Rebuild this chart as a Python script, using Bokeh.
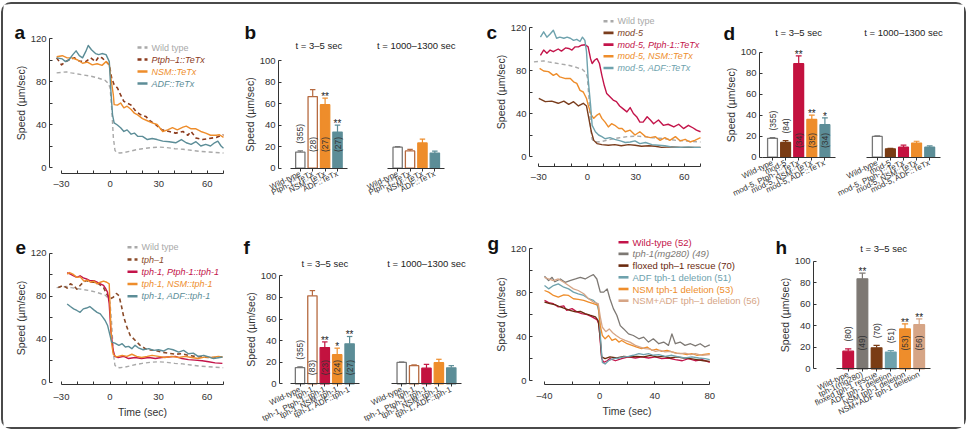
import math
from bokeh.plotting import figure
from bokeh.layouts import row, column
from bokeh.models import Range1d, FixedTicker, LinearAxis
from bokeh.core.properties import value
from bokeh.embed import file_html
from bokeh.resources import INLINE

FONT = "Liberation Sans"
INK = "#333333"
SPEED = "Speed (µm/sec)"

# ---------------- traces: speed (µm/sec) versus time (sec) ----------------
# wild-type reference trace (shared by a, c, e)
wt_t = [-33, -30, -27, -24, -20, -16, -12, -8, -5, -3, -1, 0, 1, 2, 3, 4, 6, 9, 12, 16,
        20, 25, 30, 35, 40, 45, 50, 55, 60, 65, 70]
wt_v = [88, 88.5, 89, 88, 87, 86, 85, 83.5, 82, 81, 78, 74, 55, 28, 16, 14, 13.5, 14, 15, 16.5,
        17.5, 18.5, 19, 18.5, 17.5, 17, 16, 15, 14.5, 14, 13.5]

# a
a_ptph_t = [-33, -30, -27.5, -25.5, -22, -19, -15, -12, -9, -7, -5, -2.5, -0.5, 1, 2.5, 4.5, 6.5,
            8.5, 10.5, 13, 16, 19, 22, 25, 28, 32, 36.5, 40.5, 45, 48, 50, 53, 57, 61, 65.5, 70]
a_ptph_v = [102, 95.5, 98.5, 100, 102, 99, 98.5, 102, 98.5, 103, 102, 98.5, 95.5, 83, 77, 74, 67.5,
            61.5, 60, 58, 52, 49, 47.5, 43, 40, 35, 33.5, 32, 33.5, 30, 33.5, 27.5, 26, 27, 28, 30.5]
a_nsm_t = [-33, -29.5, -26.5, -23.5, -20, -17, -14, -11, -8, -5, -2.5, -0.5, 0.5, 2, 2.5, 4.5, 6.5,
           8.5, 10.5, 13, 15, 17, 20, 23, 26, 29, 32.5, 35.5, 38.5, 41.5, 45, 47, 50, 53, 56, 59,
           62, 65.5, 67.5, 70]
a_nsm_v = [103, 104, 102, 102, 100, 97, 98, 95.5, 96.5, 95, 98.5, 95.5, 83, 67.5, 58.5, 58, 60,
           55.5, 57, 54, 50.5, 49, 45.5, 43.5, 41.5, 40, 33.5, 35, 37, 35, 37.5, 38.5, 36, 36, 33.5,
           32, 30, 30, 30.5, 28]
a_adf_t = [-33, -29.5, -27.5, -25.5, -23, -21, -19, -17, -15, -13.5, -11.5, -9, -7, -5, -2.5, -0.5,
           0.5, 1.5, 2.5, 4.5, 6.5, 8.5, 10.5, 13, 15, 17, 20, 23, 26, 29, 32.5, 36.5, 40.5, 44,
           47, 50, 53, 56, 59, 62, 64.5, 66.5, 68.5, 70]
a_adf_v = [102, 101, 98.5, 100, 105, 108.5, 104, 102, 108, 113.5, 109.5, 106, 105, 106, 105, 98.5,
           71, 49, 41.5, 39.5, 37, 33.5, 35, 31, 32, 29, 29, 26, 27, 26, 24.5, 24, 23, 26,
           23, 21.5, 24, 20, 21.5, 20, 23, 24.5, 20, 18]

# c
c_mod5_t = [-30, -26, -22, -18, -14.5, -11.5, -8.5, -5.5, -2.5, -0.5, 1, 2.5, 4, 6, 9, 13, 17, 21,
            25.5, 29.5, 33.5, 38, 42, 46, 52, 58.5, 64.5, 70]
c_mod5_v = [54, 51, 51.5, 49.5, 51.5, 48.5, 51, 47, 49.5, 47, 35, 23, 15, 12, 11, 10.5, 11, 10,
            11, 10.5, 9.5, 10, 9.5, 8.5, 9, 8.5, 8.5, 8.5]
c_ptph_t = [-29, -27, -25, -23, -21, -18, -16, -13.5, -11.5, -9.5, -7.5, -5.5, -3.5, -1.5, 0.5, 2,
            3, 4.5, 6, 7.5, 9, 10.5, 12, 14, 16, 18, 20, 22, 24.5, 26.5, 28.5, 30.5, 32.5, 34.5,
            37, 39, 41, 44, 47, 50, 53.5, 56.5, 59.5, 62.5, 65.5, 67.5, 70]
c_ptph_v = [94, 99, 96, 99, 97.5, 100, 98, 101, 100.5, 99, 102, 102, 103.5, 104, 102, 91,
            86.5, 89.5, 91, 86.5, 75.5, 66, 58.5, 55.5, 52.5, 51, 47, 44.5, 41.5, 45.5, 40, 37, 32, 32,
            37, 34, 30.5, 34, 29, 30, 27.5, 30, 26, 29, 26.5, 24.5, 23]
c_nsm_t = [-29.5, -27, -24, -21, -19, -17, -13.5, -10.5, -8.5, -6.5, -4.5, -2.5, -0.5, 0.5, 2.5, 4,
           6, 7.5, 9, 11, 13, 15, 17, 19.5, 21.5, 23.5, 26.5, 29.5, 32.5, 36, 39, 42, 45, 48, 51,
           54.5, 57.5, 60.5, 63.5, 66.5, 70]
c_nsm_v = [82, 79.5, 79, 75.5, 77, 74, 72.5, 72.5, 69.5, 68, 61.5, 60, 54, 48, 38.5, 35.5,
           38.5, 40, 35.5, 32, 27.5, 30.5, 29, 26, 26, 23, 24.5, 20, 23, 18.5, 17.5, 18.5, 15, 17.5, 15,
           18.5, 14.5, 16, 13.5, 15, 17.5]
c_adf_t = [-29, -27, -25, -23, -21, -19, -17, -14.5, -12.5, -10.5, -8.5, -6.5, -4.5, -3, -1.5, -0.5,
           0.5, 2, 3, 5, 7, 9, 11, 14, 17, 20.5, 23.5, 26.5, 29.5, 32.5, 36, 40, 44, 48, 52, 57.5,
           62.5, 66.5, 70]
c_adf_v = [111, 116, 111, 114, 117.5, 110, 111, 110, 111, 110, 108, 109, 107, 111, 108, 97.5,
           72.5, 48, 29, 23, 20, 18.5, 16.5, 17.5, 16, 14.5, 13, 13.5, 14.5, 12, 13, 11, 10.5, 10, 9, 8.5,
           9, 8.5, 8.5]

# e
e_tph_t = [-32, -29, -26.5, -24.5, -22.5, -20.5, -18.5, -16.5, -14.5, -12.5, -10, -7, -4, -2, 0, 2,
           4, 5.5, 7, 8.5, 10.5, 12.5, 14.5, 16.5, 18.5, 22, 25, 28, 32, 36, 40.5, 44.5, 48.5, 52.5,
           57, 61, 65, 69.5]
e_tph_v = [88, 90, 87.5, 91.5, 90, 86.5, 90, 93, 94.5, 93, 93, 91.5, 88, 82, 77.5, 79,
           82.5, 80.5, 71.5, 60.5, 51, 43.5, 40.5, 37.5, 34.5, 31, 30, 29.5, 28, 27, 26, 26.5, 25, 24,
           23.5, 23, 23, 23.5]
e_ptph_t = [-26.5, -24.5, -22.5, -20.5, -18.5, -16.5, -14.5, -12.5, -10, -8, -6, -4, -2.5, -1.5,
            -0.5, 0.5, 2, 3, 5, 8.5, 11.5, 15.5, 19.5, 24, 28, 32, 36, 40.5, 44.5, 48.5, 52.5, 57, 61,
            65, 69.5]
e_ptph_v = [102, 100.5, 99, 97.5, 99, 97, 96, 94.5, 94.5, 93, 91.5, 90, 86.5, 83.5,
            73, 48, 29.5, 24, 23, 24, 22, 23, 22, 23, 22, 23, 23.5, 24, 22, 21, 20.5, 20, 19,
            18, 17.5]
e_nsm_t = [-26.5, -25, -23, -20.5, -18.5, -16, -14, -12, -10, -8, -6, -4, -2, -0.5, 0.3, 1, 2, 4,
           7.5, 10.5, 13.5, 16.5, 19.5, 23, 26, 30, 34, 38, 42.5, 46.5, 50.5, 54.5, 59, 63, 67, 69.5]
e_nsm_v = [100.5, 102, 100.5, 97.5, 98, 94, 95, 93, 94, 91.5, 93, 94, 93, 91.5, 60.5, 36, 26,
           23.5, 25, 24, 26, 24, 23, 24, 25, 24, 23, 24, 23, 24, 23, 22, 23.5, 23, 24, 23.5]
e_adf_t = [-26.5, -24.5, -22.5, -20.5, -18.5, -16.5, -14.5, -12.5, -10, -8, -6, -4.5, -3, -1.5, 0,
           1, 3, 5.5, 7.5, 9.5, 11.5, 13.5, 15.5, 17.5, 20.5, 24, 27, 30, 33, 36, 39, 42.5, 45.5,
           48.5, 51.5, 54.5, 58, 61, 64, 67, 69.5]
e_adf_v = [72.8, 70.4, 68.2, 66.7, 65, 68.2, 69, 70.4, 67.3, 65, 63.6, 60.5, 57.4, 52.8, 43.5,
           37.3, 36.4, 34.3, 35.8, 32.7, 33.3, 31.2, 34.3, 32, 30.2, 31.2, 29.6, 30.2, 29, 31.2, 30.2,
           28, 29.6, 26.5, 27, 24, 25, 23.5, 22, 22.8, 23.5]

# g
g_wt_t = [-40, -37, -33.5, -30, -26, -24, -20, -16.5, -13, -9, -5.5, -2, -0.5, 0.5, 1.5, 3, 5.5,
          7.5, 11.5, 16, 21, 26, 30.5, 35.5, 40.5, 45, 50, 55, 60, 64.5, 69.5, 74.5, 80]
g_wt_v = [73, 71, 70, 67, 68, 64, 65.5, 62.5, 61, 60, 58, 55.5, 51.5, 35, 20, 16.5, 18,
          20, 18, 20, 21.5, 20.5, 21.5, 20.5, 21.5, 20, 20.5, 19, 18, 20, 18, 19, 16.5]
g_tph_t = [-40, -37, -34.5, -32.5, -28.5, -25, -21.5, -17.5, -14, -10.5, -7, -4.5, -2, 0.5, 3, 5.5,
           7.5, 10, 12.5, 15, 17.5, 21, 24.5, 28.5, 32, 35.5, 39, 43, 46.5, 50, 52.5, 55, 58.5,
           62, 66, 69.5, 73, 76.5, 80]
g_tph_v = [95, 91, 94, 90, 92.5, 89.5, 91, 92.5, 94, 92.5, 95, 96.5, 92.5, 80.5, 80.5, 83.5,
           74.5, 65.5, 59.5, 50, 47, 42.5, 41, 38, 39.5, 35, 38, 33.5, 35, 32, 42.5, 33.5, 35,
           32, 33.5, 31.5, 33.5, 30.5, 32.5]
g_flox_t = [-40, -36, -32, -28.5, -25, -21.5, -17.5, -14, -10.5, -7, -3, -1, 0.5, 1.5, 4, 7.5, 12.5,
            17.5, 22, 27, 32, 37, 41.5, 46.5, 51.5, 56, 61, 66, 70.5, 75.5, 80]
g_flox_v = [71.5, 70, 69, 67, 65.5, 64, 62.5, 63, 61, 59.5, 58, 54.5, 38, 21.5, 20, 21.5, 20.5,
            22, 21.5, 22, 21.5, 23, 21.5, 22, 20.5, 21.5, 20.5, 20, 19, 18, 17.5]
g_adf_t = [-40, -37, -33.5, -30, -26, -22.5, -19, -15.5, -11.5, -8, -4.5, -2, -0.5, 1, 2, 4, 6.5, 10,
           14, 17.5, 21, 24.5, 28.5, 32, 35.5, 39, 43, 47.5, 52.5, 57.5, 62, 67, 72, 76.5, 80]
g_adf_v = [86.5, 83.5, 86.5, 88, 85, 83.5, 80.5, 79, 77.5, 74.5, 73, 70, 62.5, 32, 16.5, 15, 18, 20,
           20.5, 21.5, 22, 23, 24.5, 23.5, 24.5, 23, 23.5, 22, 23, 21.5, 20.5, 21.5, 20.5, 20, 19]
g_nsm_t = [-40, -37, -33.5, -30, -26, -22.5, -19, -15.5, -11.5, -8, -4.5, -1, 0.5, 2, 4, 6.5, 9,
           11.5, 14, 16, 20, 23.5, 27, 30.5, 34.5, 38, 41.5, 45, 49, 52.5, 56, 60, 63.5, 67, 70.5,
           74.5, 80]
g_nsm_v = [82, 80.5, 77.5, 76, 78, 77.5, 74.5, 74, 73, 71.5, 70, 68.5, 50, 41, 38, 41, 36.5,
           38, 35, 36.5, 33.5, 32, 30.5, 29, 30.5, 27.5, 28.5, 26.5, 27.5, 26, 25, 24.5, 23.5, 24.5, 23,
           23.5, 24.5]
g_nadf_t = [-40, -37, -33.5, -30, -26, -22.5, -19, -15.5, -11.5, -8, -4.5, -1, 0.5, 2, 4.5, 7, 9.5,
            12, 15, 18.5, 22, 26, 29.5, 33, 37, 40.5, 44, 47.5, 51.5, 55, 58.5, 62, 66, 69.5,
            74.5, 80]
g_nadf_v = [94, 92.5, 91, 92.5, 89.5, 86.5, 83.5, 82, 79, 74.5, 71.5, 70, 58, 48.5, 44.5, 47, 43.5,
            41, 38.5, 36.5, 35, 32, 30.5, 29, 28.5, 26.5, 27.5, 26, 26.5, 25, 24.5, 25, 23.5, 24.5,
            23, 23.5]

# ---------------- bar summaries: mean speed and s.e.m. ----------------
windows = ["t = 3–5 sec", "t = 1000–1300 sec"]

b_names = ["Wild-type", "Ptph-1::TeTx", "NSM::TeTx", "ADF::TeTx"]
b_early = [15, 66.5, 59, 33.5]
b_early_err = [1, 6.5, 6, 6.5]
b_late = [19.5, 16, 23.5, 14]
b_late_err = [0.5, 1.5, 3.5, 1.8]
b_n = ["(355)", "(28)", "(27)", "(27)"]
b_sig = ["", "", "**", "**"]

d_names = ["Wild-type", "mod-5", "mod-5, Ptph-1::TeTx", "mod-5, NSM::TeTx", "mod-5, ADF::TeTx"]
d_early = [18, 14, 89, 36, 31]
d_early_err = [0.7, 1.8, 7.5, 4, 6.5]
d_late = [19.8, 8, 9.5, 13.5, 9.5]
d_late_err = [0.5, 0.5, 2, 1.7, 1.2]
d_n = ["(355)", "(84)", "(34)", "(35)", "(34)"]
d_sig = ["", "", "**", "**", "*"]

f_names = ["Wild-type", "tph-1", "tph-1, Ptph-1::tph-1", "tph-1, NSM::tph-1", "tph-1, ADF::tph-1"]
f_early = [15, 81.5, 33.5, 27, 37]
f_early_err = [0.7, 4.8, 5.3, 6, 6.8]
f_late = [19.8, 16.8, 14.5, 19.5, 14.8]
f_late_err = [0.4, 0.7, 3.5, 3.2, 2]
f_n = ["(355)", "(83)", "(23)", "(24)", "(27)"]
f_sig = ["", "", "**", "*", "**"]

h_names = ["Wild-type", "tph-1(mg280)", "floxed tph-1 rescue", "ADF tph-1 deletion",
           "NSM tph-1 deletion", "NSM+ADF tph-1 deletion"]
h_early = [16.4, 83.6, 19.5, 15.5, 37, 41]
h_early_err = [2.2, 5.3, 2.2, 1.5, 4.8, 5.4]
h_n = ["(80)", "(49)", "(70)", "(51)", "(53)", "(56)"]
h_sig = ["", "**", "", "", "**", "**"]

# ---------------- colours ----------------
C_WT = "#a9a9a9"
C_TETX = "#8b3a1c"
C_ORANGE = "#ee8d2b"
C_TEAL = "#5c8d97"
C_TEAL_L = "#6ea2ad"
C_MOD5 = "#7a3d1d"
C_CRIMSON = "#c3144a"
C_TPH = "#8a4a28"
C_GRAY = "#7d7873"
C_FLOX = "#6a2a0e"
C_TAN = "#d6a586"
BAR_WT_LINE = "#777777"
BAR_TETX_LINE = "#b66a40"
BAR_MOD5 = "#7a3c14"
BAR_RED = "#c3123f"


def inverse(cal):
    """Pixel -> data mapping from two (data, pixel) calibration pairs."""
    (d1, p1), (d2, p2) = cal
    k = (p2 - p1) / (d2 - d1)
    return (lambda px: d1 + (px - p1) / k), abs(k)


def canvas(geom, xcal, ycal):
    """A figure whose plotting frame covers the whole panel; axes sit at fixed locations."""
    ox, oy, w, h = geom
    fx, kx = inverse(xcal)
    fy, ky = inverse(ycal)
    p = figure(width=w, height=h, x_range=Range1d(fx(ox), fx(ox + w)),
               y_range=Range1d(fy(oy + h), fy(oy)), min_border=0,
               x_axis_location=None, y_axis_location=None,
               title=None, toolbar_location=None, output_backend="svg",
               background_fill_color="white", border_fill_color="white")
    p.xgrid.visible = False
    p.ygrid.visible = False
    p.outline_line_color = None
    return p, fx, fy, kx, ky


def style_axis(ax, tick_size="9.5px", standoff=4):
    ax.axis_line_color = INK
    ax.axis_line_width = 1
    ax.major_tick_line_color = INK
    ax.minor_tick_line_color = INK
    ax.major_tick_in = 3
    ax.major_tick_out = 0
    ax.minor_tick_in = 3
    ax.minor_tick_out = 0
    ax.major_label_text_font = FONT
    ax.major_label_text_font_size = tick_size
    ax.major_label_text_color = INK
    ax.major_label_standoff = standoff
    ax.axis_label_text_font = FONT
    ax.axis_label_text_font_size = "10.5px"
    ax.axis_label_text_font_style = "normal"
    ax.axis_label_text_color = INK
    ax.axis_label_standoff = 1


def speed_axis(p, fx, y_px_x, top):
    ya = LinearAxis(fixed_location=fx(y_px_x), bounds=(0, top), axis_label=SPEED)
    style_axis(ya, standoff=3)
    if top == 120:
        ya.ticker = FixedTicker(ticks=[0, 40, 80, 120], minor_ticks=[20, 60, 100])
    else:
        ya.ticker = FixedTicker(ticks=[0, 20, 40, 60, 80, 100])
    p.add_layout(ya, "left")


def panel_letter(p, fx, fy, ch, x_abs, base_abs):
    p.text(x=[fx(x_abs)], y=[fy(base_abs)], text=[ch], text_font=value(FONT),
           text_font_size="19px", text_font_style="bold", text_color="#111111",
           text_baseline="alphabetic", text_align="left")


def draw_key(p, fx, fy, entries, x_abs, cys, size):
    for (color, dash, _, _), cy in zip(entries, cys):
        p.segment(x0=[fx(x_abs)], y0=[fy(cy)], x1=[fx(x_abs + 10)], y1=[fy(cy)],
                  line_color=color, line_width=2.6, line_dash=dash)
    p.text(x=[fx(x_abs + 14)] * len(cys), y=[fy(cy) for cy in cys],
           text=[e[2] for e in entries], text_color=[e[0] for e in entries],
           text_font_style=["italic" if e[3] else "normal" for e in entries],
           text_baseline="middle", text_align="left", text_font=value(FONT), text_font_size=size)


def line_panel(geom, axis_px, xcal, ycal, xmajor, xminor, traces, key_x, key_cy, key_size,
               ch, letter_xy, xlabel=None, standoff=4):
    p, fx, fy, kx, ky = canvas(geom, xcal, ycal)
    for t, v, color, dash, width, _, _ in traces:
        p.line(t, v, line_color=color, line_width=width, line_dash=dash, line_join="round")
    draw_key(p, fx, fy, [(c, d, txt, it) for _, _, c, d, _, txt, it in traces], key_x, key_cy, key_size)
    y_px_x, x_px_y = axis_px
    xa = LinearAxis(fixed_location=fy(x_px_y))
    style_axis(xa, standoff=standoff)
    xa.ticker = FixedTicker(ticks=xmajor, minor_ticks=xminor)
    xa.bounds = (xmajor[0], max(xmajor[-1], xminor[-1]))
    xa.major_label_overrides = {t: "–%d" % (-t) for t in xmajor if t < 0}
    if xlabel:
        xa.axis_label = xlabel
    p.add_layout(xa, "below")
    speed_axis(p, fx, y_px_x, 120)
    panel_letter(p, fx, fy, ch, *letter_xy)
    return p


def bar_panel(geom, y_px_x, xcal, ycal, groups, title_px, inside_y, ch, letter_xy):
    p, fx, fy, kx, ky = canvas(geom, xcal, ycal)
    title_x, title_txt = [], []
    for names, pos, mean, err, fills, lines, counts, sig, title in groups:
        p.vbar(x=pos, top=mean, bottom=0, width=0.75, fill_color=fills, line_color=lines,
               line_width=1.3)
        tops = [m + e for m, e in zip(mean, err)]
        p.segment(x0=pos, y0=mean, x1=pos, y1=tops, line_color=lines, line_width=1.2)
        p.segment(x0=[x - 0.22 for x in pos], y0=tops, x1=[x + 0.22 for x in pos], y1=tops,
                  line_color=lines, line_width=1.2)
        if counts:
            ys = []
            for m, tp, txt in zip(mean, tops, counts):
                half = len(txt) * 0.55 * 8.5 / 2 / ky
                ys.append(inside_y if m > inside_y + half + 1.5 else tp + 5 + half)
            p.text(x=pos, y=ys, text=counts, angle=math.pi / 2, text_align="center",
                   text_baseline="middle", text_font=value(FONT), text_font_size="8.5px",
                   text_color=INK)
        if sig:
            p.text(x=pos, y=[tp + 1.5 for tp in tops], text=sig, text_align="center",
                   text_baseline="alphabetic", text_font=value(FONT), text_font_size="10px",
                   text_color="#222222")
        # one baseline axis per time window
        xa = LinearAxis(fixed_location=0, bounds=(pos[0] - 0.8, pos[-1] + 0.8),
                        ticker=FixedTicker(ticks=pos),
                        major_label_overrides={x: nm for x, nm in zip(pos, names)})
        style_axis(xa, tick_size="8px", standoff=2)
        xa.major_tick_in = 0
        xa.major_tick_out = 3
        xa.major_label_orientation = 0.45
        p.add_layout(xa, "below")
        title_x.append(sum(pos) / len(pos))
        title_txt.append(title)
    p.text(x=title_x, y=[fy(title_px)] * len(title_x), text=title_txt, text_align="center",
           text_baseline="middle", text_font=value(FONT), text_font_size="9.5px",
           text_color="#222222")
    speed_axis(p, fx, y_px_x, 100)
    panel_letter(p, fx, fy, ch, *letter_xy)
    return p


def positions(n, start=0.0):
    return [round(start + i, 3) for i in range(n)]


# ---------------- a ----------------
pa = line_panel((3, 4, 237, 205), (49, 173), ((-30, 61), (70, 223)), ((0, 167), (120, 38)),
                [-30, 0, 30, 60], [-20, -10, 10, 20, 40, 50, 70],
                [(wt_t, wt_v, C_WT, "4 3", 1.4, "Wild type", False),
                 (a_ptph_t, a_ptph_v, C_TETX, "4 3", 1.6, "Ptph–1::TeTx", True),
                 (a_nsm_t, a_nsm_v, C_ORANGE, "solid", 1.4, "NSM::TeTx", True),
                 (a_adf_t, a_adf_v, C_TEAL, "solid", 1.4, "ADF::TeTx", True)],
                137, [47, 59, 71, 83], "9px", "a", (14, 31.5))

# ---------------- b ----------------
b_pos1 = positions(4)
b_pos2 = positions(4, 7.85)
b_fill = ["white", "white", C_ORANGE, C_TEAL]
b_line = [BAR_WT_LINE, BAR_TETX_LINE, C_ORANGE, C_TEAL]
pb = bar_panel((240, 4, 240, 205), 278, ((0, 299.8), (1, 312.2)), ((0, 167.7), (100, 60)),
               [(b_names, b_pos1, b_early, b_early_err, b_fill, b_line, b_n, b_sig, windows[0]),
                (b_names, b_pos2, b_late, b_late_err, b_fill, b_line, None, None, windows[1])],
               45, 22, "b", (244, 31.7))

# ---------------- c ----------------
pc = line_panel((480, 4, 236, 205), (529, 166), ((-30, 538.3), (70, 700)), ((0, 156), (120, 27)),
                [-30, 0, 30, 60], [-20, -10, 10, 20, 40, 50, 70],
                [(wt_t, wt_v, C_WT, "4 3", 1.4, "Wild type", False),
                 (c_mod5_t, c_mod5_v, C_MOD5, "solid", 1.4, "mod-5", True),
                 (c_ptph_t, c_ptph_v, C_CRIMSON, "solid", 1.4, "mod-5, Ptph-1::TeTx", True),
                 (c_nsm_t, c_nsm_v, C_ORANGE, "solid", 1.4, "mod-5, NSM::TeTx", True),
                 (c_adf_t, c_adf_v, C_TEAL_L, "solid", 1.4, "mod-5, ADF::TeTx", True)],
                603, [20.7, 32.4, 44.1, 55.8, 67.5], "9px", "c", (486, 32.3))

# ---------------- d ----------------
d_pos1 = positions(5)
d_pos2 = positions(5, 8.0)
d_fill = ["white", BAR_MOD5, BAR_RED, C_ORANGE, C_TEAL]
d_line = [BAR_WT_LINE, BAR_MOD5, BAR_RED, C_ORANGE, C_TEAL]
pd = bar_panel((716, 4, 248, 205), 759, ((0, 772), (1, 785.1)), ((0, 156.7), (100, 51.7)),
               [(d_names, d_pos1, d_early, d_early_err, d_fill, d_line, d_n, d_sig, windows[0]),
                (d_names, d_pos2, d_late, d_late_err, d_fill, d_line, None, None, windows[1])],
               32.3, 16, "d", (723, 33.3))

# ---------------- e ----------------
pe = line_panel((3, 209, 237, 218), (49, 384), ((-30, 61), (70, 222.7)), ((0, 381.7), (120, 252.7)),
                [-30, 0, 30, 60], [-20, -10, 10, 20, 40, 50, 70],
                [(wt_t, wt_v, C_WT, "4 3", 1.4, "Wild type", False),
                 (e_tph_t, e_tph_v, C_TPH, "4 3", 1.6, "tph–1", True),
                 (e_ptph_t, e_ptph_v, C_CRIMSON, "solid", 1.4, "tph-1, Ptph-1::tph-1", True),
                 (e_nsm_t, e_nsm_v, C_ORANGE, "solid", 1.4, "tph-1, NSM::tph-1", True),
                 (e_adf_t, e_adf_v, C_TEAL, "solid", 1.4, "tph-1, ADF::tph-1", True)],
                127, [246.7, 259, 271.3, 283.5, 295.8], "9px", "e", (15, 246.7),
                xlabel="Time (sec)", standoff=6)

# ---------------- f ----------------
f_pos1 = positions(5)
f_pos2 = positions(5, 8.2)
f_fill = ["white", "white", BAR_RED, C_ORANGE, C_TEAL]
f_line = [BAR_WT_LINE, BAR_TETX_LINE, BAR_RED, C_ORANGE, C_TEAL]
pf = bar_panel((240, 209, 240, 218), 279, ((0, 299.5), (1, 311.9)), ((0, 383.3), (100, 275.3)),
               [(f_names, f_pos1, f_early, f_early_err, f_fill, f_line, f_n, f_sig, windows[0]),
                (f_names, f_pos2, f_late, f_late_err, f_fill, f_line, None, None, windows[1])],
               263.3, 15, "f", (243, 246.7))

# ---------------- g ----------------
pg = line_panel((480, 209, 295, 218), (529, 384), ((-40, 544), (80, 709.3)), ((0, 380), (120, 248.3)),
                [-40, 0, 40, 80], [-20, 20, 60],
                [(g_wt_t, g_wt_v, C_CRIMSON, "solid", 1.3, "Wild-type (52)", False),
                 (g_tph_t, g_tph_v, C_GRAY, "solid", 1.3, "tph-1(mg280) (49)", True),
                 (g_flox_t, g_flox_v, C_FLOX, "solid", 1.3, "floxed tph–1 rescue (70)", False),
                 (g_adf_t, g_adf_v, C_TEAL_L, "solid", 1.3, "ADF tph-1 deletion (51)", False),
                 (g_nsm_t, g_nsm_v, C_ORANGE, "solid", 1.3, "NSM tph-1 deletion (53)", False),
                 (g_nadf_t, g_nadf_v, C_TAN, "solid", 1.3, "NSM+ADF tph–1 deletion (56)", False)],
                618, [241.7, 253.4, 265.1, 276.8, 288.5, 300.2], "9.5px", "g", (487, 243),
                xlabel="Time (sec)", standoff=5)

# ---------------- h ----------------
h_pos = positions(6)
h_fill = [BAR_RED, C_GRAY, BAR_MOD5, C_TEAL_L, C_ORANGE, C_TAN]
ph = bar_panel((775, 209, 189, 218), 813, ((0, 847.7), (1, 861.9)), ((0, 368.3), (100, 260.7)),
               [(h_names, h_pos, h_early, h_early_err, h_fill, h_fill, h_n, h_sig, windows[0])],
               248, 24, "h", (775, 246.7))

page = column(row(pa, pb, pc, pd, spacing=0), row(pe, pf, pg, ph, spacing=0), spacing=0,
              styles={"border": "2px solid #4a4a4a", "border-radius": "10px",
                      "margin-left": "1px", "margin-top": "2px"})

open("out.html", "w").write(file_html(page, INLINE))
